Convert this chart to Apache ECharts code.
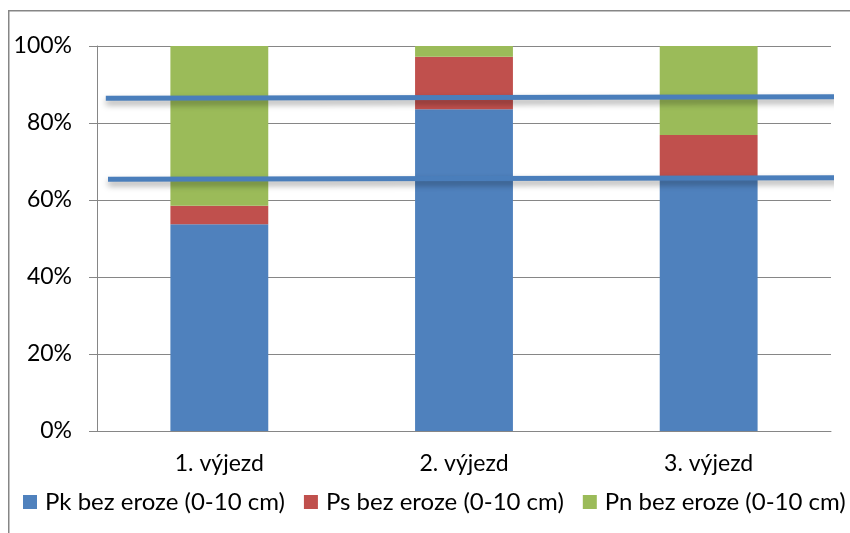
<!DOCTYPE html>
<html>
<head>
<meta charset="utf-8">
<script src="https://cdn.jsdelivr.net/npm/echarts@6/dist/echarts.min.js"></script>
<style>html,body{margin:0;padding:0;background:#fff}#c{width:850px;height:533px}</style>
</head>
<body>
<div id="c"></div>
<script>
const categories = ['1. výjezd', '2. výjezd', '3. výjezd'];
const seriesNames = ['Pk bez eroze (0-10 cm)', 'Ps bez eroze (0-10 cm)', 'Pn bez eroze (0-10 cm)'];
const pkValues = [53.7, 83.6, 66.0];
const psValues = [4.8, 13.6, 10.9];
const pnValues = [41.5, 2.8, 23.1];
const yTicks = [0, 20, 40, 60, 80, 100];
// hand-drawn annotation lines: [x position along plot width in %, y value in %]
const upperLine = [[1.2, 86.4], [101.0, 86.8]];
const lowerLine = [[1.5, 65.4], [101.2, 65.8]];

const FONT = 'Lato';
const chart = echarts.init(document.getElementById('c'));
const barColors = ['#4f81bd', '#c0504d', '#9bbb59'];
const values = [pkValues, psValues, pnValues];
const lineStyleAnno = {
  color: '#4a7ebb', width: 5,
  shadowColor: 'rgba(0,0,0,0.35)', shadowBlur: 6, shadowOffsetY: 4
};
chart.setOption({
  animation: false,
  textStyle: { fontFamily: FONT },
  graphic: [{
    type: 'rect', left: 8, top: 10, z: -10,
    shape: { width: 900, height: 600 },
    style: { fill: '#fff', stroke: '#868686', lineWidth: 1.5 }
  }],
  grid: { left: 97, right: 19, top: 46, bottom: 102, containLabel: false },
  legend: {
    top: 490, left: 23, width: 900, padding: 0,
    itemWidth: 14, itemHeight: 14, itemGap: 19,
    icon: 'rect',
    textStyle: { fontSize: 24, color: '#000', fontFamily: FONT, padding: [0, 0, 0, 3] },
    data: seriesNames
  },
  xAxis: [{
    type: 'category', data: categories,
    axisLine: { lineStyle: { color: '#868686', width: 1 } },
    axisTick: { length: 7, lineStyle: { color: '#868686' } },
    axisLabel: { fontSize: 23, color: '#000', margin: 21, fontFamily: FONT }
  }, {
    type: 'value', min: 0, max: 100, show: false
  }],
  yAxis: {
    type: 'value', min: 0, max: 100, interval: 20,
    axisLine: { show: true, lineStyle: { color: '#868686', width: 1 } },
    axisTick: { show: true, length: 8, inside: false, lineStyle: { color: '#868686' } },
    splitLine: { lineStyle: { color: '#868686', width: 1 } },
    axisLabel: { fontSize: 23, color: '#000', margin: 25, fontFamily: FONT,
      formatter: v => yTicks.includes(v) ? v + '%' : '' }
  },
  series: [
    ...seriesNames.map((n, i) => ({
      name: n, type: 'bar', stack: 'total', data: values[i], barWidth: '40%',
      itemStyle: { color: barColors[i] }
    })),
    {
      type: 'line', xAxisIndex: 1, data: upperLine, clip: false, symbol: 'none',
      lineStyle: lineStyleAnno, z: 10, silent: true
    },
    {
      type: 'line', xAxisIndex: 1, data: lowerLine, clip: false, symbol: 'none',
      lineStyle: lineStyleAnno, z: 10, silent: true
    }
  ]
});
</script>
</body>
</html>
